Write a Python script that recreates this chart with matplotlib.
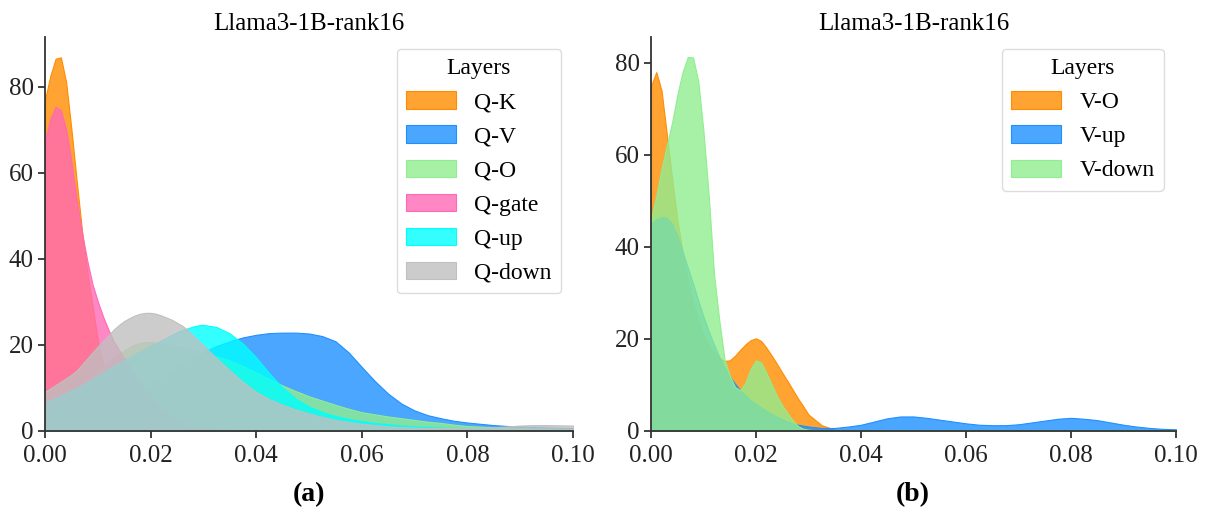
import matplotlib
matplotlib.use('Agg')
import matplotlib.pyplot as plt
from matplotlib.colors import to_rgba

plt.rcParams['font.family'] = ['Liberation Serif', 'DejaVu Serif']

x_grid = [0.000, 0.001, 0.002, 0.003, 0.004, 0.005, 0.006, 0.007, 0.008, 0.009,
          0.010, 0.011, 0.012, 0.013, 0.014, 0.015, 0.016, 0.017, 0.018, 0.019,
          0.020, 0.021, 0.022, 0.023, 0.024, 0.025, 0.026, 0.027, 0.028, 0.029,
          0.030, 0.0325, 0.035, 0.0375, 0.040, 0.0425, 0.045, 0.0475, 0.050, 0.0525,
          0.055, 0.0575, 0.060, 0.0625, 0.065, 0.0675, 0.070, 0.0725, 0.075, 0.0775,
          0.080, 0.0825, 0.085, 0.0875, 0.090, 0.0925, 0.095, 0.0975, 0.100]

# panel (a): Q layer pairs
q_k = [77, 82.5, 86.5, 86.8, 81, 70, 58, 46.5, 37, 29,
       21, 15, 10.5, 7.3, 5, 3.5, 2.5, 1.8, 1.3, 0.9,
       0.6, 0.4, 0.3, 0.2, 0.15, 0.1, 0.1, 0.05, 0.05, 0,
       0, 0, 0, 0, 0, 0, 0, 0, 0, 0,
       0, 0, 0, 0, 0, 0, 0, 0, 0, 0,
       0, 0, 0, 0, 0, 0, 0, 0, 0]
q_v = [1.5, 1.6, 1.8, 2.0, 2.2, 2.5, 2.8, 3.1, 3.5, 3.9,
       4.3, 4.8, 5.3, 5.8, 6.4, 7.0, 7.6, 8.3, 9.0, 9.7,
       10.5, 11.3, 12.1, 12.9, 13.7, 14.5, 15.3, 16.1, 16.9, 17.6,
       18.3, 19.7, 20.8, 21.7, 22.3, 22.7, 22.8, 22.8, 22.6, 22.0,
       20.8, 18.2, 14.8, 11.5, 8.6, 6.3, 4.7, 3.6, 2.9, 2.3,
       1.9, 1.6, 1.3, 1.1, 0.95, 0.85, 0.75, 0.65, 0.6]
q_o = [4, 4.7, 5.5, 6.4, 7.4, 8.4, 9.4, 10.5, 11.6, 12.7,
       13.8, 14.9, 16, 17, 17.9, 18.7, 19.4, 20, 20.4, 20.6,
       20.6, 20.5, 20.3, 20.1, 19.9, 19.6, 19.3, 19, 18.7, 18.4,
       18.1, 17.3, 16.3, 15.0, 13.5, 12.0, 10.5, 9.2, 8.0, 7.0,
       6.0, 5.1, 4.3, 3.8, 3.3, 2.9, 2.5, 2.1, 1.8, 1.4,
       1.1, 0.95, 0.8, 0.7, 0.6, 0.55, 0.5, 0.45, 0.4]
q_gate = [67.5, 72.5, 75.3, 74.5, 70, 62.5, 53.5, 46, 39.5, 34,
          30, 26.5, 23.5, 20.8, 18.8, 16.8, 14.8, 12.8, 11, 9.3,
          7.8, 6.4, 5.2, 4.2, 3.3, 2.6, 2, 1.6, 1.2, 0.9,
          0.7, 0.4, 0.2, 0.1, 0.05, 0, 0, 0, 0, 0,
          0, 0, 0, 0, 0, 0, 0, 0, 0, 0,
          0, 0, 0, 0, 0, 0, 0, 0, 0]
q_up = [6.5, 7.0, 7.6, 8.2, 8.8, 9.4, 10.0, 10.6, 11.3, 12.0,
        12.8, 13.5, 14.3, 15.0, 15.7, 16.4, 17.1, 17.8, 18.4, 19.0,
        19.7, 20.3, 21.0, 21.6, 22.3, 22.9, 23.4, 23.8, 24.2, 24.5,
        24.6, 24.1, 22.6, 20.2, 17.0, 13.3, 10.0, 7.4, 5.6, 4.3,
        3.4, 2.7, 2.2, 1.8, 1.5, 1.2, 1.0, 0.85, 0.7, 0.6,
        0.5, 0.45, 0.4, 0.35, 0.3, 0.3, 0.3, 0.3, 0.3]
q_down = [9.1, 9.8, 10.6, 11.4, 12.2, 13.0, 14.0, 15.4, 16.8, 18.2,
          19.6, 20.9, 22.2, 23.5, 24.6, 25.5, 26.2, 26.8, 27.2, 27.4,
          27.4, 27.2, 26.8, 26.3, 25.8, 25.1, 24.4, 23.4, 22.2, 21,
          19.8, 16.8, 14.0, 11.3, 9.0, 7.3, 6.0, 4.9, 4.0, 3.2,
          2.5, 2.0, 1.6, 1.3, 1.0, 0.85, 0.7, 0.65, 0.6, 0.6,
          0.6, 0.7, 0.8, 1.0, 1.2, 1.3, 1.3, 1.25, 1.2]

# panel (b): V layer pairs
v_o = [75, 78, 74, 64.5, 55, 46, 39, 33, 28, 24,
       21, 18.8, 17, 15.8, 15.2, 15.3, 16.3, 17.6, 18.8, 19.7,
       20.1, 19.5, 18, 16.3, 14.5, 12.6, 10.8, 8.9, 7, 5.3,
       3.5, 1.2, 0.2, 0, 0, 0, 0, 0, 0, 0,
       0, 0, 0, 0, 0, 0, 0, 0, 0, 0,
       0, 0, 0, 0, 0, 0, 0, 0, 0]
v_up = [45, 46, 46.5, 46.3, 45, 42.5, 39, 35.5, 32, 28.3,
        24.8, 21.6, 18.7, 16.1, 13.8, 11.8, 10.2, 8.8, 7.6, 6.6,
        5.8, 5, 4.3, 3.6, 3, 2.5, 2, 1.6, 1.3, 1.1,
        0.9, 0.6, 0.6, 0.9, 1.3, 2.0, 2.7, 3.1, 3.1, 2.8,
        2.4, 2.0, 1.6, 1.3, 1.2, 1.2, 1.4, 1.8, 2.2, 2.6,
        2.8, 2.6, 2.3, 1.8, 1.3, 0.9, 0.6, 0.4, 0.3]
v_down = [46, 51, 57, 62, 67, 73, 78, 81.3, 81.2, 76,
          65, 51, 34, 24, 15.5, 12, 9.5, 8.8, 10.5, 13.5,
          15.3, 14.8, 12.5, 10, 7.5, 5.5, 3.8, 2.2, 1, 0.4,
          0.2, 0.05, 0, 0, 0, 0, 0, 0, 0, 0,
          0, 0, 0, 0, 0, 0, 0, 0, 0, 0,
          0, 0, 0, 0, 0, 0, 0, 0, 0]

layers_a = ['Q-K', 'Q-V', 'Q-O', 'Q-gate', 'Q-up', 'Q-down']
series_a = [q_k, q_v, q_o, q_gate, q_up, q_down]
colors_a = ['darkorange', 'dodgerblue', 'lightgreen', 'hotpink', 'cyan', 'silver']

layers_b = ['V-O', 'V-up', 'V-down']
series_b = [v_o, v_up, v_down]
colors_b = ['darkorange', 'dodgerblue', 'lightgreen']

title = 'Llama3-1B-rank16'


def draw_panel(ax, layers, series, colors, ytop):
    for name, ys, c in zip(layers, series, colors):
        ax.fill_between(x_grid, 0, ys, facecolor=to_rgba(c, 0.8),
                        edgecolor=c, linewidth=0.8, label=name)
    ax.set_xlim(0, 0.1)
    ax.set_ylim(0, ytop)
    ax.set_xticks([0.0, 0.02, 0.04, 0.06, 0.08, 0.1])
    ax.set_xticklabels(['0.00', '0.02', '0.04', '0.06', '0.08', '0.10'])
    ax.set_yticks([0, 20, 40, 60, 80])
    ax.tick_params(labelsize=18, length=5, width=1.2, colors='#222222')
    ax.tick_params(axis='x', pad=5)
    ax.tick_params(axis='y', pad=3)
    for side in ['top', 'right']:
        ax.spines[side].set_visible(False)
    for side in ['left', 'bottom']:
        ax.spines[side].set_linewidth(1.3)
        ax.spines[side].set_color('#333333')
    ax.set_title(title, fontsize=18, pad=5)
    leg = ax.legend(title='Layers', fontsize=17, title_fontsize=17,
                    loc='upper right', handlelength=2.1, handleheight=0.75,
                    handletextpad=0.8, labelspacing=0.52, borderpad=0.4,
                    framealpha=1, edgecolor='#dddddd')
    leg.get_frame().set_linewidth(1.0)


fig = plt.figure(figsize=(12.11, 5.13), dpi=100)
ax_a = fig.add_axes([0.0372, 0.1604, 0.436, 0.768])
ax_b = fig.add_axes([0.5376, 0.1604, 0.4335, 0.768])

draw_panel(ax_a, layers_a, series_a, colors_a, 91.6)
draw_panel(ax_b, layers_b, series_b, colors_b, 85.7)

fig.text(0.255, 0.036, '(a)', ha='center', va='center', fontsize=20, fontweight='bold')
fig.text(0.754, 0.036, '(b)', ha='center', va='center', fontsize=20, fontweight='bold')

fig.savefig('out.png', dpi=100, facecolor='white')
